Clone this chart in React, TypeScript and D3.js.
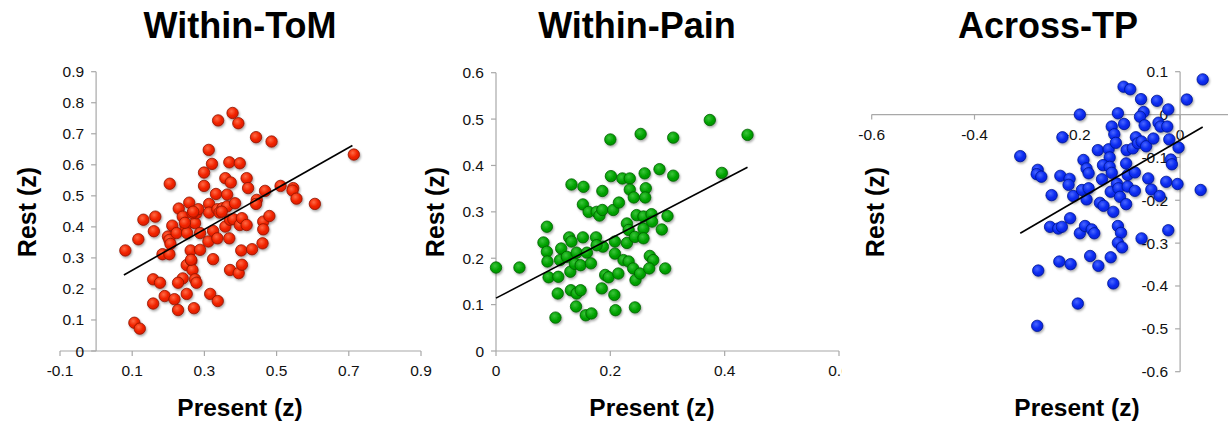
import React from "react";
import * as d3 from "d3";

// ---------- DATA ----------
const tomPresent = [0.081,0.106,0.121,0.117,0.131,0.164,0.160,0.158,0.177,0.158,0.190,0.217,0.227,0.204,0.184,0.203,0.211,0.199,0.203,0.206,0.223,0.229,0.240,0.258,0.248,0.252,0.274,0.278,0.283,0.267,0.288,0.262,0.288,0.251,0.264,0.240,0.227,0.267,0.274,0.278,0.251,0.271,0.316,0.337,0.324,0.311,0.324,0.336,0.313,0.313,0.332,0.336,0.350,0.363,0.342,0.299,0.299,0.312,0.321,0.338,0.378,0.394,0.369,0.398,0.358,0.373,0.363,0.385,0.358,0.369,0.371,0.380,0.398,0.404,0.417,0.402,0.432,0.371,0.395,0.404,0.417,0.421,0.443,0.486,0.445,0.443,0.468,0.463,0.480,0.463,0.461,0.511,0.546,0.544,0.555,0.606,0.714,0.246,0.269,0.348,0.263];
const tomRest = [0.324,0.091,0.072,0.360,0.423,0.433,0.386,0.231,0.220,0.153,0.177,0.167,0.132,0.539,0.312,0.312,0.404,0.369,0.358,0.345,0.380,0.459,0.433,0.478,0.401,0.380,0.412,0.444,0.457,0.444,0.380,0.324,0.326,0.277,0.291,0.234,0.220,0.261,0.231,0.220,0.184,0.138,0.184,0.161,0.296,0.353,0.387,0.363,0.474,0.446,0.506,0.457,0.460,0.466,0.446,0.532,0.575,0.648,0.603,0.743,0.767,0.734,0.608,0.605,0.557,0.543,0.504,0.476,0.401,0.363,0.423,0.425,0.406,0.428,0.406,0.324,0.328,0.261,0.251,0.278,0.557,0.525,0.689,0.675,0.487,0.474,0.516,0.417,0.435,0.392,0.347,0.532,0.525,0.517,0.491,0.474,0.633,0.413,0.449,0.449,0.294];
const tomTrendX = [0.077, 0.71];
const tomTrendY = [0.245, 0.662];

const painPresent = [0.000,0.041,0.089,0.083,0.089,0.090,0.092,0.109,0.108,0.104,0.114,0.112,0.128,0.132,0.124,0.130,0.131,0.141,0.148,0.140,0.132,0.153,0.152,0.152,0.141,0.138,0.148,0.159,0.157,0.167,0.166,0.162,0.175,0.176,0.181,0.186,0.186,0.187,0.176,0.185,0.191,0.197,0.201,0.200,0.205,0.215,0.208,0.208,0.207,0.209,0.214,0.221,0.234,0.234,0.241,0.223,0.232,0.229,0.229,0.232,0.240,0.244,0.243,0.252,0.243,0.246,0.253,0.260,0.262,0.261,0.258,0.258,0.258,0.269,0.275,0.268,0.272,0.273,0.286,0.290,0.300,0.296,0.310,0.310,0.374,0.395,0.440];
const painRest = [0.180,0.180,0.268,0.234,0.214,0.193,0.159,0.160,0.124,0.072,0.221,0.196,0.245,0.236,0.203,0.171,0.131,0.124,0.131,0.096,0.359,0.354,0.316,0.245,0.212,0.188,0.185,0.212,0.077,0.081,0.189,0.300,0.245,0.300,0.292,0.304,0.345,0.225,0.228,0.135,0.164,0.159,0.377,0.456,0.304,0.320,0.236,0.210,0.121,0.088,0.167,0.372,0.372,0.348,0.331,0.196,0.193,0.275,0.233,0.261,0.178,0.153,0.094,0.167,0.246,0.293,0.468,0.383,0.351,0.331,0.264,0.243,0.290,0.205,0.196,0.178,0.295,0.279,0.392,0.262,0.291,0.178,0.460,0.378,0.498,0.384,0.466];
const painTrendX = [0.0, 0.44];
const painTrendY = [0.114, 0.396];

const acrossPresent = [-0.311,-0.277,-0.279,-0.270,-0.276,-0.278,-0.250,-0.253,-0.237,-0.230,-0.235,-0.213,-0.233,-0.215,-0.217,-0.229,-0.214,-0.208,-0.199,-0.195,-0.195,-0.188,-0.182,-0.178,-0.191,-0.178,-0.182,-0.185,-0.172,-0.167,-0.175,-0.159,-0.160,-0.152,-0.156,-0.149,-0.139,-0.137,-0.150,-0.137,-0.133,-0.128,-0.125,-0.121,-0.133,-0.135,-0.130,-0.135,-0.130,-0.121,-0.115,-0.121,-0.113,-0.123,-0.120,-0.117,-0.110,-0.097,-0.109,-0.105,-0.102,-0.105,-0.104,-0.102,-0.092,-0.086,-0.082,-0.088,-0.088,-0.076,-0.071,-0.078,-0.069,-0.075,-0.066,-0.075,-0.062,-0.056,-0.052,-0.045,-0.042,-0.038,-0.040,-0.023,-0.025,-0.021,-0.027,-0.018,-0.016,-0.023,-0.003,-0.005,0.013,0.044,0.040];
const acrossRest = [-0.097,-0.129,-0.139,-0.145,-0.364,-0.493,-0.188,-0.262,-0.266,-0.262,-0.343,-0.349,-0.143,-0.150,-0.164,-0.053,-0.242,-0.190,-0.441,0.000,-0.277,-0.106,-0.126,-0.137,-0.176,-0.172,-0.198,-0.260,-0.268,-0.277,-0.330,-0.353,-0.083,-0.151,-0.206,-0.213,-0.081,-0.100,-0.118,-0.122,-0.028,-0.046,-0.066,0.003,-0.136,-0.180,-0.227,-0.333,-0.394,-0.260,-0.276,-0.299,-0.310,-0.161,-0.172,-0.192,0.065,0.059,-0.022,-0.114,-0.141,-0.209,-0.083,-0.168,-0.079,-0.053,-0.067,-0.135,-0.178,0.036,0.006,-0.005,-0.025,-0.063,-0.074,-0.289,-0.149,-0.175,-0.056,0.032,-0.019,-0.028,-0.190,0.012,-0.028,-0.058,-0.157,-0.105,-0.116,-0.270,-0.077,-0.162,0.035,0.082,-0.176];
const acrossTrendX = [-0.311, 0.044];
const acrossTrendY = [-0.277, -0.029];

const tomXTicks = [-0.1, 0.1, 0.3, 0.5, 0.7, 0.9];
const tomYTicks = [0, 0.1, 0.2, 0.3, 0.4, 0.5, 0.6, 0.7, 0.8, 0.9];
const painXTicks = [0, 0.2, 0.4, 0.6];
const painYTicks = [0, 0.1, 0.2, 0.3, 0.4, 0.5, 0.6];
const acrossXTicks = [-0.6, -0.4, -0.2, 0];
const acrossYTicks = [0.1, 0, -0.1, -0.2, -0.3, -0.4, -0.5, -0.6];

const titles = ["Within-ToM", "Within-Pain", "Across-TP"];
const xAxisTitle = "Present (z)";
const yAxisTitle = "Rest (z)";

// ---------- LAYOUT ----------
const FONT = "'Liberation Sans', Arial, Helvetica, sans-serif";
const AXIS = "#a8a8a8";

const fmt = (v: number) => (Math.abs(v) < 1e-9 ? "0" : String(+v.toFixed(1)));

type PanelCfg = {
  id: string;
  title: string;
  titleX: number;
  xLabelX: number;
  yLabelX: number;
  clip: [number, number];
  x: d3.ScaleLinear<number, number>;
  y: d3.ScaleLinear<number, number>;
  xTicks: number[];
  yTicks: number[];
  present: number[];
  rest: number[];
  trendX: number[];
  trendY: number[];
  light: string;
  base: string;
  dark: string;
  edge: string;
};

const panels: PanelCfg[] = [
  {
    id: "tom",
    title: titles[0],
    titleX: 240,
    xLabelX: 240,
    yLabelX: 36,
    clip: [0, 434],
    x: d3.scaleLinear().domain([-0.1, 0.9]).range([60, 421]),
    y: d3.scaleLinear().domain([0, 0.9]).range([351, 71.7]),
    xTicks: tomXTicks,
    yTicks: tomYTicks,
    present: tomPresent,
    rest: tomRest,
    trendX: tomTrendX,
    trendY: tomTrendY,
    light: "#ff6a45",
    base: "#f22400",
    dark: "#d41a00",
    edge: "#8e1500",
  },
  {
    id: "pain",
    title: titles[1],
    titleX: 637,
    xLabelX: 652,
    yLabelX: 444,
    clip: [434, 842],
    x: d3.scaleLinear().domain([0, 0.6]).range([496, 839]),
    y: d3.scaleLinear().domain([0, 0.6]).range([351, 72.7]),
    xTicks: painXTicks,
    yTicks: painYTicks,
    present: painPresent,
    rest: painRest,
    trendX: painTrendX,
    trendY: painTrendY,
    light: "#3cc43c",
    base: "#05a505",
    dark: "#008e00",
    edge: "#006000",
  },
  {
    id: "across",
    title: titles[2],
    titleX: 1048,
    xLabelX: 1077,
    yLabelX: 884,
    clip: [843, 1228],
    x: d3.scaleLinear().domain([-0.6, 0.2]).range([871.7, 1282.9]),
    y: d3.scaleLinear().domain([-0.6, 0.1]).range([371.7, 71.7]),
    xTicks: acrossXTicks,
    yTicks: acrossYTicks,
    present: acrossPresent,
    rest: acrossRest,
    trendX: acrossTrendX,
    trendY: acrossTrendY,
    light: "#4a66ff",
    base: "#0a2cf2",
    dark: "#0620d0",
    edge: "#001690",
  },
];

function Panel({ p }: { p: PanelCfg }) {
  const { x, y } = p;
  const xDom = x.domain();
  const yDom = y.domain();
  const axisY = y(0);
  const axisX = x(0);
  const pts = p.present.map((v, i) => ({ px: v, ry: p.rest[i] }));
  const line = d3
    .line<number>()
    .x((_, i) => x(p.trendX[i]))
    .y((d) => y(d));
  return (
    <g>
      <defs>
        <clipPath id={`clip-${p.id}`}>
          <rect x={p.clip[0]} y={0} width={p.clip[1] - p.clip[0]} height={429} />
        </clipPath>
        <radialGradient id={`grad-${p.id}`} cx="40%" cy="35%" r="70%">
          <stop offset="0%" stopColor={p.light} />
          <stop offset="55%" stopColor={p.base} />
          <stop offset="100%" stopColor={p.dark} />
        </radialGradient>
      </defs>
      <g clipPath={`url(#clip-${p.id})`}>
        {/* x axis */}
        <line x1={x(xDom[0])} x2={x(xDom[1])} y1={axisY} y2={axisY} stroke={AXIS} strokeWidth={1.2} />
        {p.xTicks.map((t) => (
          <g key={`xt${t}`}>
            <line x1={x(t)} x2={x(t)} y1={axisY} y2={axisY + 5} stroke={AXIS} strokeWidth={1.2} />
            <text x={x(t)} y={axisY + 25} textAnchor="middle" fontSize={15.5} fontFamily={FONT} fill="#111">
              {fmt(t)}
            </text>
          </g>
        ))}
        {/* y axis */}
        <line x1={axisX} x2={axisX} y1={y(yDom[0])} y2={y(yDom[1])} stroke={AXIS} strokeWidth={1.2} />
        {p.yTicks.map((t) => (
          <g key={`yt${t}`}>
            <line x1={axisX - 5} x2={axisX} y1={y(t)} y2={y(t)} stroke={AXIS} strokeWidth={1.2} />
            <text x={axisX - 12} y={y(t) + 5.5} textAnchor="end" fontSize={15.5} fontFamily={FONT} fill="#111">
              {fmt(t)}
            </text>
          </g>
        ))}
        {/* points */}
        <g filter="url(#shadow)">
          {pts.map((d, i) => (
            <circle
              key={i}
              cx={x(d.px)}
              cy={y(d.ry)}
              r={5.7}
              fill={`url(#grad-${p.id})`}
              stroke={p.edge}
              strokeWidth={0.8}
            />
          ))}
        </g>
        {/* trend line */}
        <path d={line(p.trendY) || ""} stroke="#000" strokeWidth={1.6} fill="none" />
      </g>
      {/* titles */}
      <text x={p.titleX} y={38} textAnchor="middle" fontSize={36} fontWeight="bold" fontFamily={FONT} fill="#000">
        {p.title}
      </text>
      <text x={p.xLabelX} y={416} textAnchor="middle" fontSize={24.5} fontWeight="bold" fontFamily={FONT} fill="#000">
        {xAxisTitle}
      </text>
      <text
        transform={`translate(${p.yLabelX},212) rotate(-90)`}
        textAnchor="middle"
        fontSize={25}
        fontWeight="bold"
        fontFamily={FONT}
        fill="#000"
      >
        {yAxisTitle}
      </text>
    </g>
  );
}

export default function App() {
  return (
    <svg
      width={1228}
      height={429}
      viewBox="0 0 1228 429"
      style={{ position: "absolute", left: 0, top: 0, background: "#fff" }}
    >
      <defs>
        <filter id="shadow" x="-10%" y="-10%" width="120%" height="120%">
          <feDropShadow dx={1} dy={1.6} stdDeviation={1.1} floodColor="#000" floodOpacity={0.35} />
        </filter>
      </defs>
      <rect width={1228} height={429} fill="#fff" />
      {panels.map((p) => (
        <Panel key={p.id} p={p} />
      ))}
    </svg>
  );
}
